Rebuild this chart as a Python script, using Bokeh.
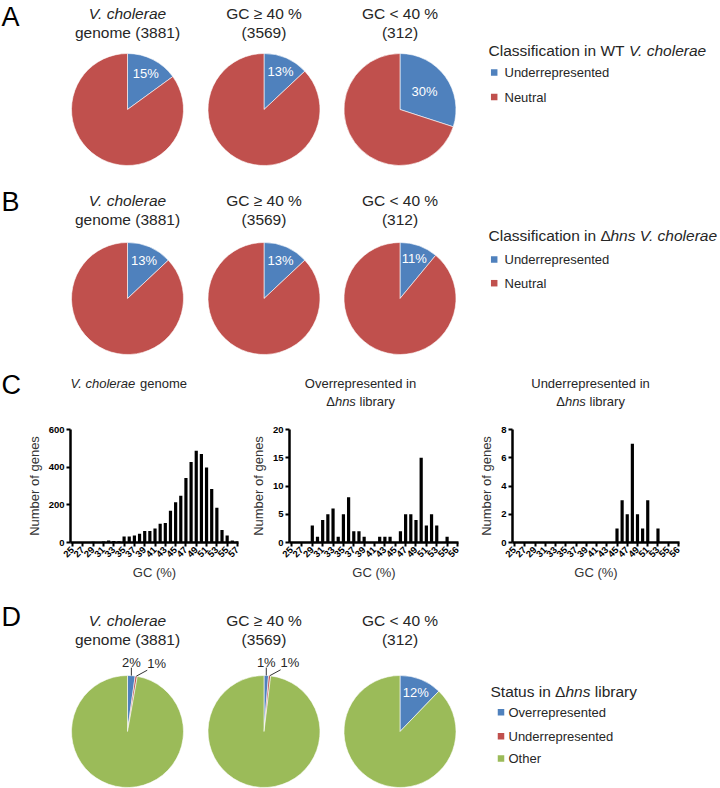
import math
from bokeh.plotting import figure
from bokeh.layouts import column, row
from bokeh.models import Range1d, FixedTicker
from bokeh.core.properties import value
from bokeh.embed import file_html
from bokeh.resources import INLINE

# ---------------- data ----------------
pie_title1 = ["V. cholerae", "GC \u2265 40 %", "GC < 40 %"]
pie_title1_italic = [True, False, False]
pie_title2 = ["genome (3881)", "(3569)", "(312)"]

a_under = [15, 13, 30]          # % underrepresented, WT
b_under = [13, 13, 11]          # % underrepresented, delta-hns
d_over = [2.2, 1.3, 12.2]       # % overrepresented in delta-hns library
d_under = [0.6, 0.6, 0.0]       # % underrepresented in delta-hns library
d_over_lbl = ["2%", "1%", "12%"]
d_under_lbl = ["1%", "1%", ""]

legend_ab = ["Underrepresented", "Neutral"]
legend_d = ["Overrepresented", "Underrepresented", "Other"]

gc_all = list(range(25, 58))
n_all = [1, 1, 1, 2, 4, 3, 5, 10, 8, 7, 32, 32, 37, 46, 61, 61, 75, 100, 104,
         168, 214, 248, 343, 427, 487, 470, 398, 284, 184, 66, 37, 10, 5]
gc_sub = list(range(25, 57))
n_over = [0, 0, 0, 0, 3, 1, 4, 5, 6, 1, 5, 8, 2, 2, 1, 0, 0, 1, 1, 1, 0, 2,
          5, 5, 4, 15, 3, 5, 3, 0, 1, 0]
n_underh = [0] * 20 + [1, 3, 2, 7, 2, 1, 3, 0, 1, 0, 0, 0]

xt_all = list(range(25, 58, 2))
xt_all_lbl = [str(v) for v in xt_all]
xt_sub = list(range(25, 58, 2))
xt_sub_lbl = [str(v) for v in range(25, 56, 2)] + ["56"]

BLUE, RED, GREEN = "#4F81BD", "#C0504D", "#9BBB59"
TXT = "#262626"
FONT = "Liberation Sans"

# ---------------- helpers ----------------
def canvas(y0, y1):
    p = figure(width=720, height=y1 - y0, x_range=Range1d(0, 720),
               y_range=Range1d(-y1, -y0), output_backend="svg",
               toolbar_location=None, min_border=0)
    p.axis.visible = False
    p.grid.visible = False
    p.outline_line_color = None
    return p

def txt(p, x, y, s, size="15.5px", style="normal", align="center", color=TXT):
    p.text(x=[x], y=[-y], text=[s], text_font=value(FONT), text_font_size=size,
           text_font_style=style, text_align=align, text_baseline="middle",
           text_color=color)

def pie(p, cx, cy, r, fracs, colors):
    c0 = 0.0
    spans = []
    for f, col in zip(fracs, colors):
        c1 = c0 + f / 100.0
        if f > 0:
            p.wedge(x=[cx], y=[-cy], radius=r, radius_units="screen",
                    start_angle=math.pi / 2 - 2 * math.pi * c1,
                    end_angle=math.pi / 2 - 2 * math.pi * c0,
                    fill_color=col, line_color="white", line_width=0.6)
        spans.append((c0, c1))
        c0 = c1
    return spans

def mid_point(cx, cy, c0, c1, rr):
    a = 2 * math.pi * (c0 + c1) / 2
    return cx + rr * math.sin(a), cy - rr * math.cos(a)

PX = [127, 263.5, 399.5]
R = 56

def pie_titles(p, y1, y2):
    for i in range(3):
        txt(p, PX[i], y1, pie_title1[i], style="italic" if pie_title1_italic[i] else "normal")
        txt(p, PX[i], y2, pie_title2[i])

def legend(p, x, ytitle, parts, items, colors, ys, sq_x, tx):
    for s, st, dx in parts:
        txt(p, x + dx, ytitle, s, style=st, align="left")
    for it, col, yy in zip(items, colors, ys):
        p.rect(x=[sq_x], y=[-yy], width=6.5, height=6.5, width_units="screen",
               height_units="screen", fill_color=col, line_color=None)
        txt(p, tx, yy, it, size="13px", align="left")

def mixed(p, xs, y, parts, size="13px"):
    for (s, st), x in zip(parts, xs):
        txt(p, x, y, s, size=size, style=st, align="left")

# ---------------- panels A, B (+ C titles) ----------------
top = canvas(0, 410)
txt(top, 1, 16, "A", size="27px", align="left", color="black")
pie_titles(top, 13, 32)
for i in range(3):
    fr = [a_under[i], 100 - a_under[i]]
    sp = pie(top, PX[i], 109, R, fr, [BLUE, RED])
    rf = min(0.75, max(0.5, 0.9 - 1.2 * fr[0] / 100))
    lx, ly = mid_point(PX[i], 109, sp[0][0], sp[0][1], rf * R)
    txt(top, lx, ly, f"{a_under[i]}%", size="13px", color="white")
legend(top, 488, 50, [("Classification in WT", "normal", 0), ("V. cholerae", "italic", 140.4)],
       legend_ab, [BLUE, RED], [72, 96.5], 493.7, 504)

txt(top, 1, 201, "B", size="27px", align="left", color="black")
pie_titles(top, 200, 219)
for i in range(3):
    fr = [b_under[i], 100 - b_under[i]]
    sp = pie(top, PX[i], 298, R, fr, [BLUE, RED])
    rf = min(0.75, max(0.5, 0.9 - 1.2 * fr[0] / 100))
    lx, ly = mid_point(PX[i], 298, sp[0][0], sp[0][1], rf * R)
    txt(top, lx, ly, f"{b_under[i]}%", size="13px", color="white")
legend(top, 488, 235, [("Classification in \u0394", "normal", 0), ("hns V. cholerae", "italic", 122.0)],
       legend_ab, [BLUE, RED], [259, 282.7], 493.7, 504)

txt(top, 1, 384, "C", size="27px", align="left", color="black")
mixed(top, [70, 139.5], 383, [("V. cholerae", "italic"), ("genome", "normal")])
txt(top, 360, 383, "Overrepresented in", size="13px")
mixed(top, [325.7, 334.4, 359], 401, [("\u0394", "normal"), ("hns", "italic"), ("library", "normal")])
txt(top, 590, 383, "Underrepresented in", size="13px")
mixed(top, [555.7, 564.4, 589], 401, [("\u0394", "normal"), ("hns", "italic"), ("library", "normal")])

# ---------------- panel C histograms ----------------
def hist(gc, counts, ymax, yticks, xticks, xlabels, xr, width, bl, br):
    p = figure(width=width, height=180, x_range=Range1d(*xr), y_range=Range1d(0, ymax),
               output_backend="svg", toolbar_location=None,
               min_border_left=bl, min_border_right=br, min_border_top=19, min_border_bottom=48)
    p.vbar(x=gc, top=counts, width=0.62, bottom=0, fill_color="black", line_color=None)
    p.grid.visible = False
    p.outline_line_color = None
    for ax in (p.xaxis[0], p.yaxis[0]):
        ax.axis_line_width = 2.5
        ax.major_tick_line_width = 2
        ax.major_tick_out = 4
        ax.major_tick_in = 0
        ax.minor_tick_line_color = None
        ax.major_label_text_font = FONT
        ax.major_label_text_font_style = "bold"
        ax.major_label_text_font_size = "9.5px"
        ax.major_label_text_color = "black"
        ax.axis_label_text_font = FONT
        ax.axis_label_text_font_style = "normal"
        ax.axis_label_text_font_size = "13px"
        ax.axis_label_text_color = "#333333"
    p.xaxis.ticker = FixedTicker(ticks=xticks, minor_ticks=[])
    p.xaxis.major_label_overrides = {v: s for v, s in zip(xticks, xlabels)}
    p.yaxis.ticker = FixedTicker(ticks=yticks, minor_ticks=[])
    p.xaxis.major_label_orientation = math.pi / 4
    p.xaxis.major_label_standoff = 2
    p.yaxis.major_label_standoff = 2
    p.xaxis.axis_label = "GC (%)"
    p.yaxis.axis_label = "Number of genes"
    p.xaxis.axis_label_standoff = 2
    p.yaxis.axis_label_standoff = 4
    return p

h1 = hist(gc_all, n_all, 600, [0, 200, 400, 600], xt_all, xt_all_lbl, (24.6, 57.2), 242, 70, 4)
h2 = hist(gc_sub, n_over, 20, [0, 5, 10, 15, 20], xt_sub, xt_sub_lbl, (24.6, 57.2), 234, 47, 18)
h3 = hist(gc_sub, n_underh, 8, [0, 2, 4, 6, 8], xt_sub, xt_sub_lbl, (24.6, 57.2), 244, 34, 41)

# ---------------- panel D ----------------
bot = canvas(590, 788)
txt(bot, 1, 616, "D", size="27px", align="left", color="black")
pie_titles(bot, 620, 639)
for i in range(3):
    fr = [d_over[i], d_under[i], 100 - d_over[i] - d_under[i]]
    sp = pie(bot, PX[i], 731, R, fr, [BLUE, RED, GREEN])
    if fr[0] > 5:
        lx, ly = mid_point(PX[i], 731, sp[0][0], sp[0][1], 0.75 * R)
        txt(bot, lx, ly, d_over_lbl[i], size="13px", color="white")
    else:
        ex, ey = mid_point(PX[i], 731, sp[0][0], sp[0][1], R)
        bot.segment(x0=[ex], y0=[-ey], x1=[ex], y1=[-(ey - 8)], line_color="#333333", line_width=1)
        txt(bot, ex, ey - 13, d_over_lbl[i], size="13px")
        ex2, ey2 = mid_point(PX[i], 731, sp[1][0], sp[1][1], R)
        bot.segment(x0=[ex2], y0=[-ey2], x1=[ex2 + 11], y1=[-(ey2 - 6)], line_color="#333333", line_width=1)
        txt(bot, ex2 + 11, ey2 - 13, d_under_lbl[i], size="13px", align="left")
legend(bot, 490, 690.5, [("Status in \u0394", "normal", 0), ("hns", "italic", 75.0), ("library", "normal", 104.3)],
       legend_d, [BLUE, RED, GREEN], [711.7, 735.7, 758], 500.5, 508)

layout = column(top, row(h1, h2, h3), bot)
open("out.html", "w").write(file_html(layout, INLINE))
